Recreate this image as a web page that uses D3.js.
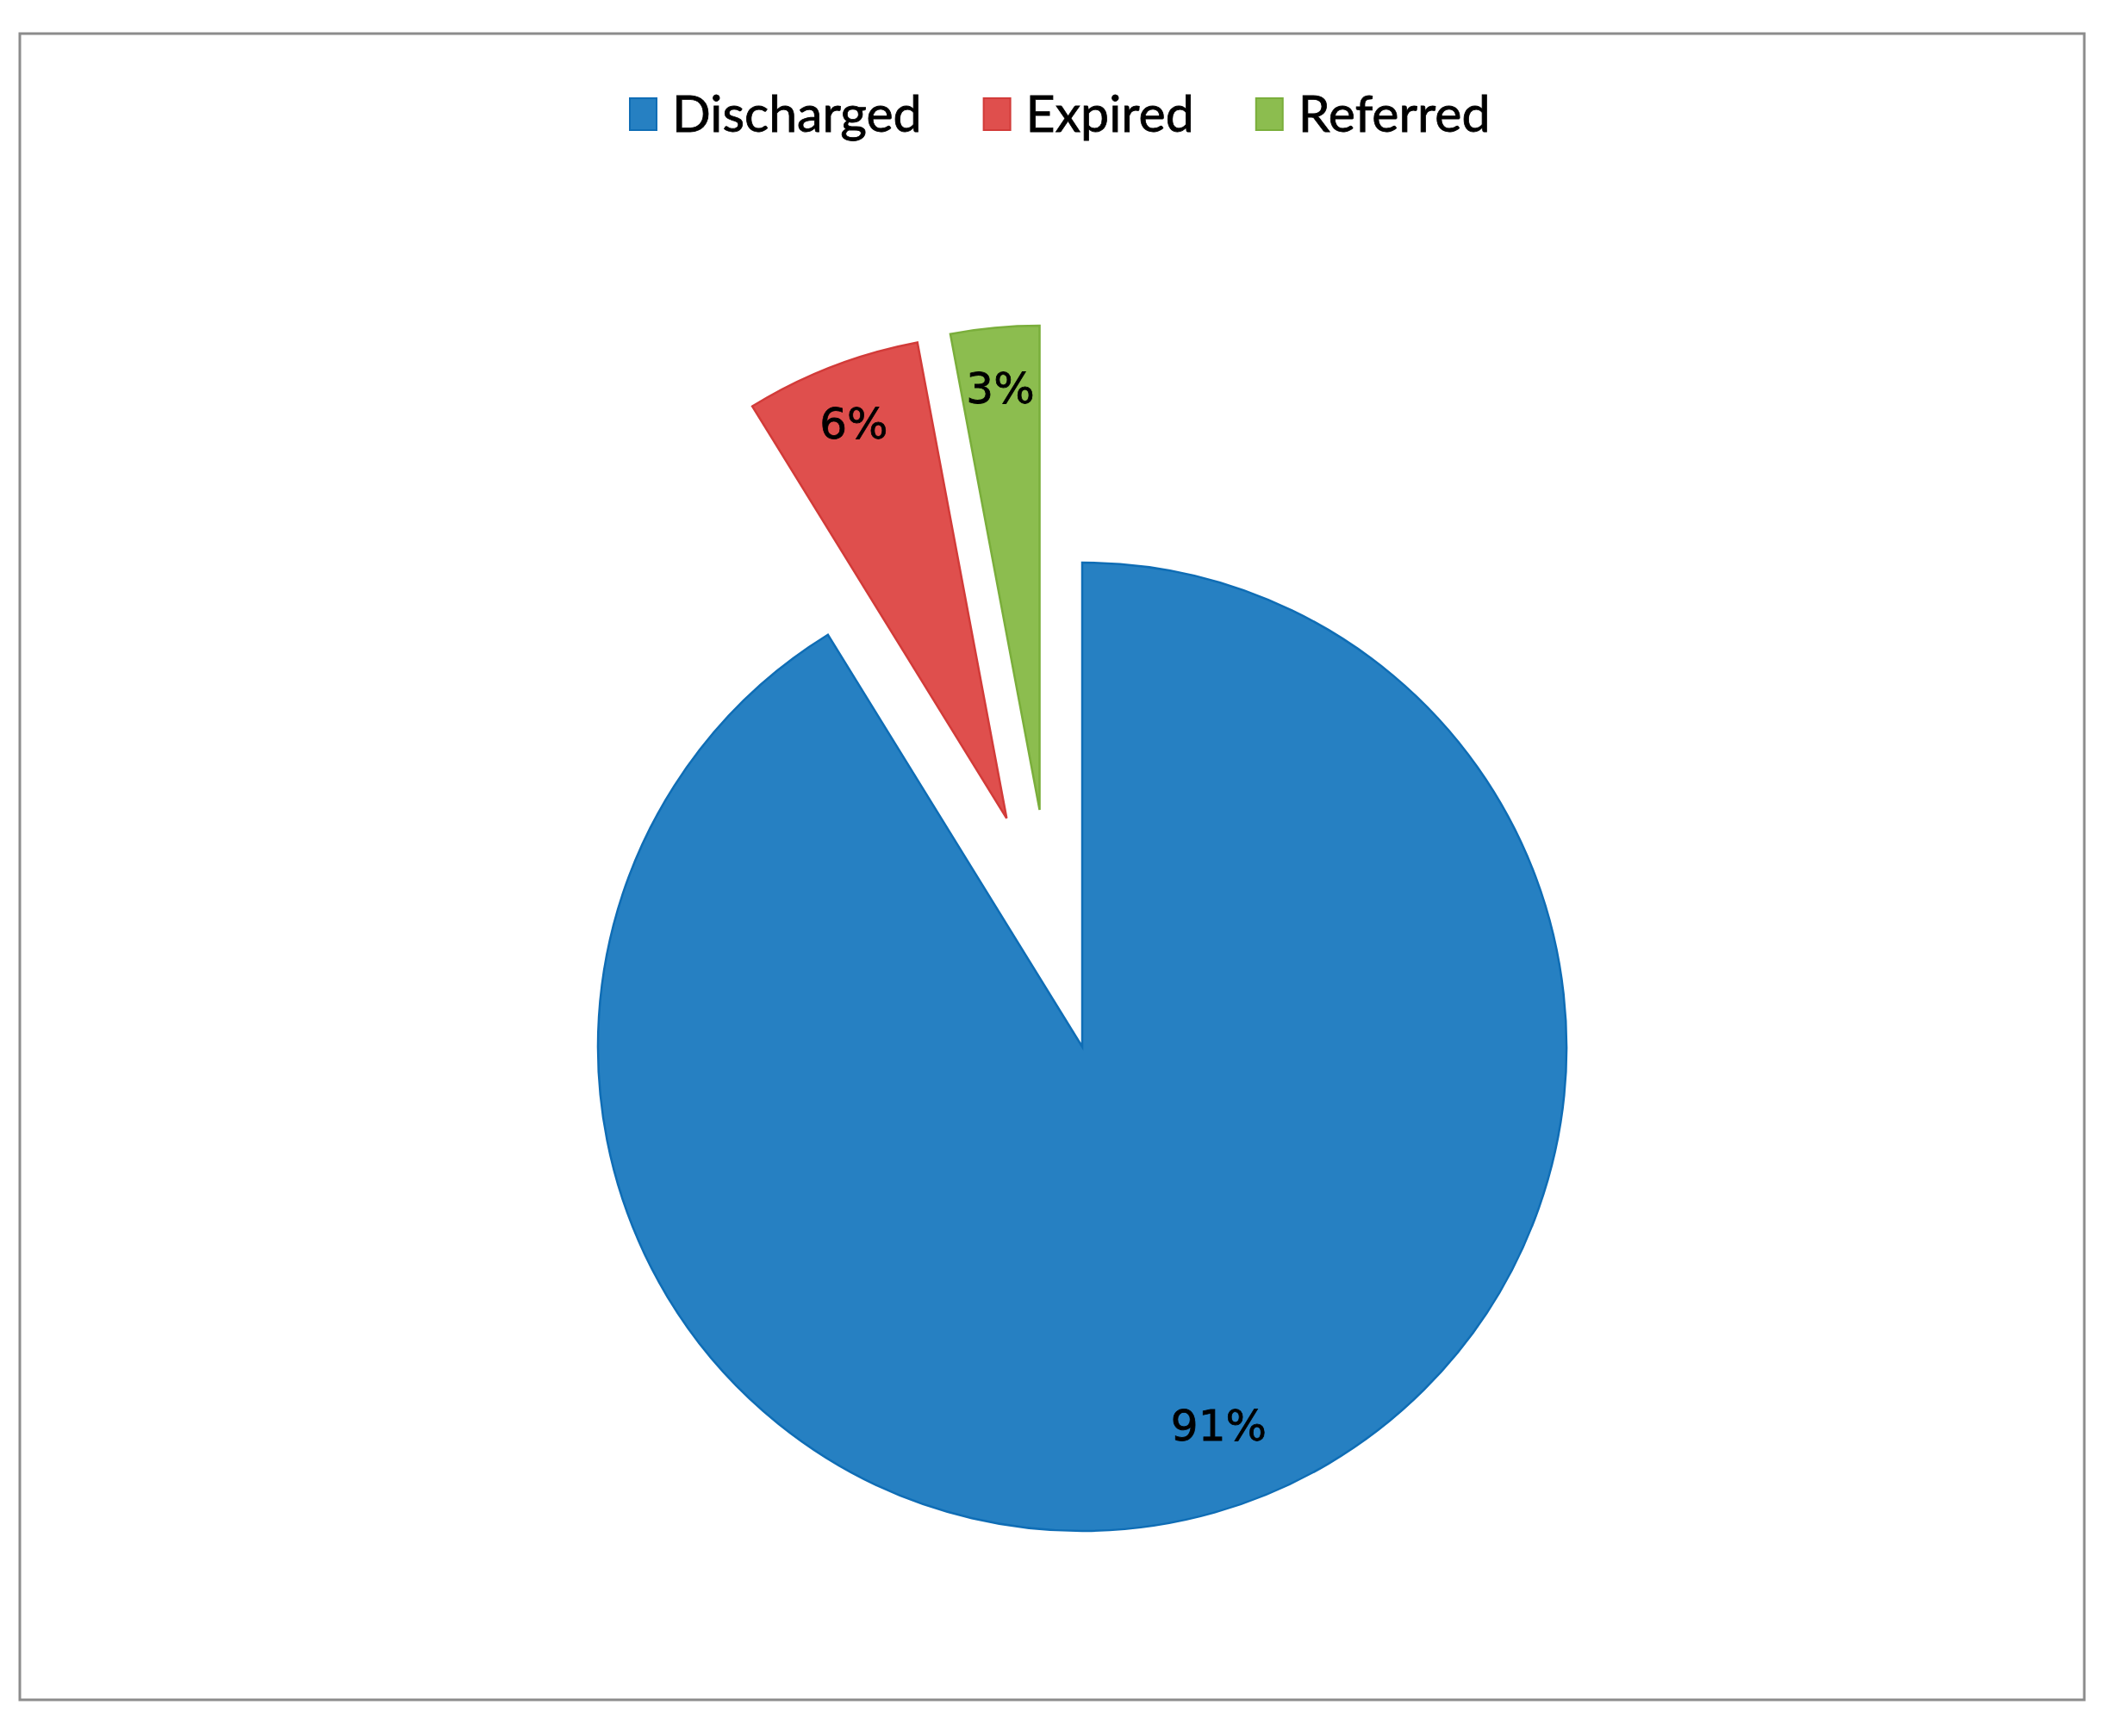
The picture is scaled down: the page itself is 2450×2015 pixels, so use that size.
<!DOCTYPE html>
<html>
<head>
<meta charset="utf-8">
<script src="https://cdn.jsdelivr.net/npm/d3@7"></script>
<style>
  body { margin: 0; background: #fff; }
</style>
</head>
<body>
<div id="chart"></div>
<script>
// outcome shares (percent)
var categories = ["Discharged", "Expired", "Referred"];
var shares = [91.2, 5.85, 2.95];
var colors = ["#2680c2", "#df4f4d", "#8cbd4f"];
var outlines = ["#0f6db5", "#d23b39", "#7aae3b"];

// which slices are pulled out of the pie, as fraction of radius and direction (deg from top)
var explode = { "Expired": { dist: 0.497, angle: -18.3 }, "Referred": { dist: 0.497, angle: -10.2 } };

var width = 2450, height = 2015;
var cx = 1256, cy = 1215, radius = 562;

var svg = d3.select('#chart')
    .append('svg')
    .attr('width', width)
    .attr('height', height);

svg.append('rect')
    .attr('x', 23)
    .attr('y', 39)
    .attr('width', 2396)
    .attr('height', 1934)
    .attr('fill', '#fff')
    .attr('stroke', '#8c8c8c')
    .attr('stroke-width', 3);

var data = categories.map(function(c, i){ return { name: c, value: shares[i], color: colors[i], outline: outlines[i] }; });
var total = d3.sum(shares);

var pie = d3.pie()
    .sort(null)
    .value(function(d){ return d.value; });

var arc = d3.arc().innerRadius(0).outerRadius(radius);
var pct = d3.format(".0%");

var g = svg.append('g')
    .attr('transform', 'translate(' + cx + ',' + cy + ')');

var slices = g.selectAll('g.slice')
    .data(pie(data))
    .enter()
    .append('g')
    .attr('class', 'slice')
    .attr('transform', function(d){
        var e = explode[d.data.name];
        if (!e) return null;
        var a = e.angle * Math.PI / 180;
        return 'translate(' + (Math.sin(a) * e.dist * radius) + ',' + (-Math.cos(a) * e.dist * radius) + ')';
    });

slices.append('path')
    .attr('d', arc)
    .attr('fill', function(d){ return d.data.color; })
    .attr('stroke', function(d){ return d.data.outline; })
    .attr('stroke-width', 2.5)
    .attr('stroke-linejoin', 'miter');

var labelArc = d3.arc().innerRadius(radius * 0.875).outerRadius(radius * 0.875);

slices.append('text')
    .attr('transform', function(d){
        var p = labelArc.centroid(d);
        if (d.data.name === "Discharged") {
            // Excel places the big label slightly towards inside-end on the right
            var a = (d.startAngle + d.endAngle) / 2 - 0.07;
            p = [Math.sin(a) * radius * 0.83, -Math.cos(a) * radius * 0.83];
        }
        return 'translate(' + p[0] + ',' + p[1] + ')';
    })
    .attr('text-anchor', 'middle')
    .attr('dy', '0.36em')
    .style('font-family', '"DejaVu Sans", Verdana, sans-serif')
    .style('font-size', '50px')
    .attr('fill', '#000')
    .attr('stroke', '#000')
    .attr('stroke-width', 0.8)
    .text(function(d){ return pct(d.value / total); });

// legend
var legend = svg.append('g');
var lx = 731, ly = 114;
data.forEach(function(d){
    legend.append('rect')
        .attr('x', lx)
        .attr('y', ly)
        .attr('width', 31)
        .attr('height', 37)
        .attr('fill', d.color)
        .attr('stroke', d.outline)
        .attr('stroke-width', 2);
    var t = legend.append('text')
        .attr('x', lx + 49)
        .attr('y', ly + 39)
        .style('font-family', 'Lato, "Open Sans", sans-serif')
        .style('font-size', '59px')
        .attr('fill', '#000')
        .attr('stroke', '#000')
        .attr('stroke-width', 0.8)
        .text(d.name);
    lx = lx + 49 + t.node().getComputedTextLength() + 72;
});
</script>
</body>
</html>
